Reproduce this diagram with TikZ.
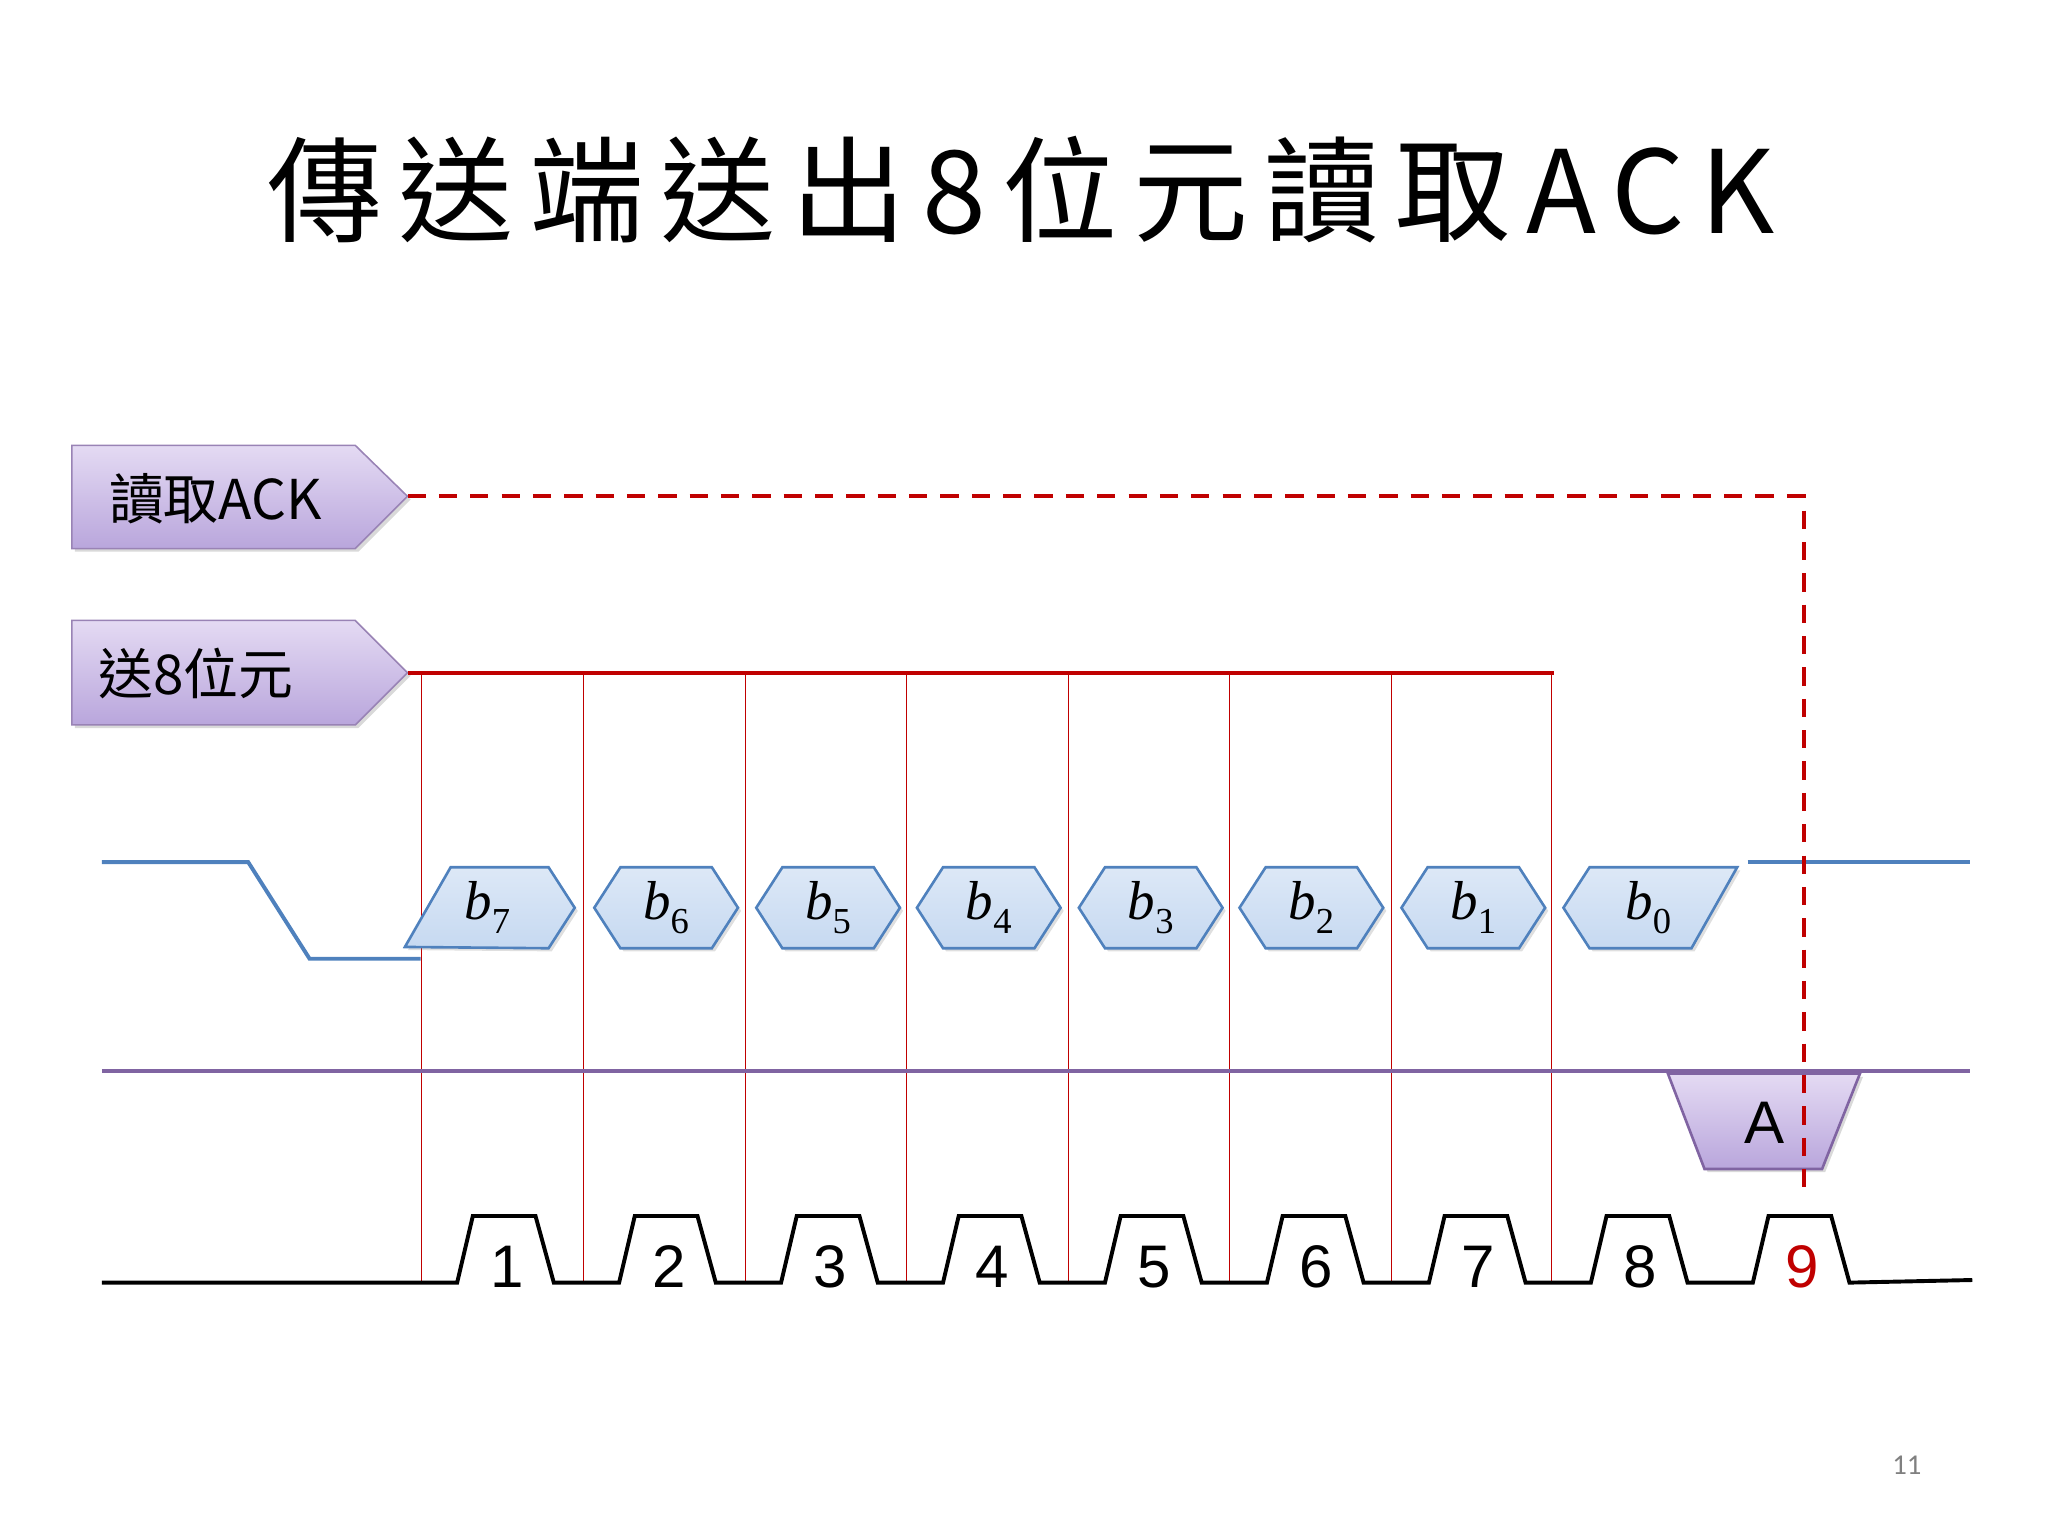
\documentclass[tikz,border=0pt]{standalone}
\usepackage{fontspec}
\setmainfont{Carlito}
\newfontfamily\cjk{Noto Sans CJK TC}
\newfontfamily\cjkwide[LetterSpace=14]{Noto Sans CJK TC}
\newfontfamily\arialf{Liberation Sans}
\newfontfamily\timesf{Liberation Serif}
\usetikzlibrary{shadows}
\definecolor{dred}{HTML}{C00000}
\definecolor{sblue}{HTML}{4F81BD}
\definecolor{hexfill}{HTML}{C6D9F1}
\definecolor{purp}{HTML}{8064A2}
\definecolor{lav}{HTML}{E4DAF3}
\definecolor{lav2}{HTML}{B9A6DC}
\newcommand{\bitb}[1]{\timesf\itshape b\raisebox{-0.25em}{\fontsize{28}{30}\selectfont\upshape #1}}
\tikzset{
  tag/.style={draw=purp!80, line width=1.2pt, top color=lav, bottom color=lav2, drop shadow={opacity=0.3}},
  hex/.style={draw=sblue, line width=2pt, top color=hexfill!60, bottom color=hexfill, drop shadow={opacity=0.25}},
  bitlbl/.style={font=\fontsize{42}{44}\selectfont},
  clk/.style={line width=3pt, black},
  tick/.style={dred, line width=0.8pt},
  num/.style={font=\arialf\fontsize{46}{50}\selectfont}
}
\begin{document}
\begin{tikzpicture}[x=1pt,y=-1pt]
\useasboundingbox (0,0) rectangle (1568,1176);
\node[font=\cjkwide\fontsize{88}{92}\selectfont] (title) at (782,145) {傳送端送出8位元讀取ACK};
% tags
\draw[tag] (55,341) -- (272,341) -- (312,380) -- (272,420) -- (55,420) -- cycle;
\node[font=\cjk\fontsize{42}{46}\selectfont, anchor=west] (t1) at (80,382) {讀取ACK};
\draw[tag] (55,475) -- (272,475) -- (312,515) -- (272,555) -- (55,555) -- cycle;
\node[font=\cjk\fontsize{42}{46}\selectfont, anchor=west] (t2) at (72,516) {送8位元};
\coordinate (s0) at (312,515); \coordinate (s1) at (1190,515);
\draw[dred, line width=3pt] (s0) -- (s1);
\foreach \x in {323,447,571,694,818,941,1065,1188}{
  \draw[tick] (\x,515) -- (\x,982);
}
% data line
\draw[sblue, line width=3pt] (78,660) -- (190,660) -- (237,734) -- (322,734);
\draw[sblue, line width=3pt] (1338,660) -- (1508,660);
% b7
\draw[hex] (310,725) -- (345,664) -- (420,664) -- (440,695) -- (420,726) -- cycle;
\node[bitlbl] at (373,695) {\bitb{7}};
\foreach \c/\n in {510/6,634/5,757/4,881/3,1004/2,1128/1}{
  \draw[hex] (\c-55,695) -- (\c-35,664) -- (\c+35,664) -- (\c+55,695) -- (\c+35,726) -- (\c-35,726) -- cycle;
  \node[bitlbl] at (\c,695) {\bitb{\n}};
}
\draw[hex] (1197,695) -- (1217,664) -- (1330,664) -- (1295,726) -- (1217,726) -- cycle;
\node[bitlbl] at (1262,695) {\bitb{0}};
% ack line
\draw[purp, line width=3pt] (78,820) -- (1508,820);
\draw[tag, draw=purp, line width=2pt] (1277,822) -- (1424,822) -- (1395,895) -- (1305,895) -- cycle;
\node[num] at (1351,860) {A};
% dashed read line
\coordinate (d0) at (312,380); \coordinate (d1) at (1381,380); \coordinate (d2) at (1381,915);
\draw[dred, line width=3pt, dash pattern=on 14pt off 10pt] (d0) -- (d1) -- (d2);
% clock
\draw[clk] (78,982) -- (350,982)
  \foreach \i in {0,...,8}{ -- (350+124*\i,982) -- (362+124*\i,931) -- (410+124*\i,931) -- (424+124*\i,982) } -- (1510,980);
\foreach \i in {1,...,8}{
  \node[num] at (388+124*\i-124,970) {\i};
}
\node[num, text=dred] at (1380,970) {9};
\node[text=gray, font=\fontsize{22}{24}\selectfont] at (1460,1122) {11};
\end{tikzpicture}
\end{document}
